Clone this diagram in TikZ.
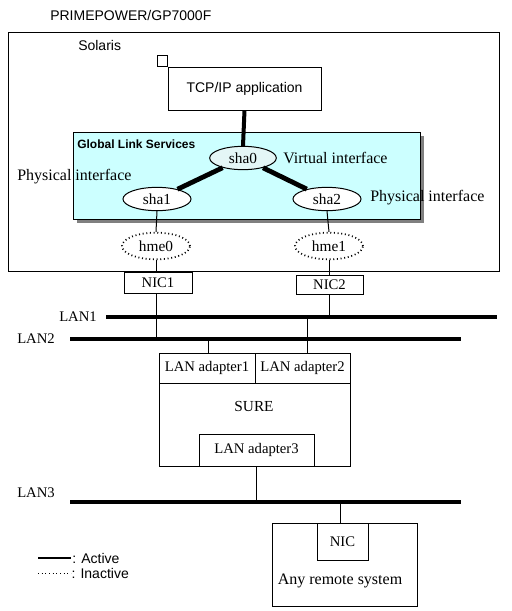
\documentclass[tikz,border=0pt]{standalone}
\usepackage{fontspec}
\setmainfont{Liberation Serif}
\setsansfont{Liberation Sans}
\usetikzlibrary{shapes.geometric,shadows,positioning}
\definecolor{glsfill}{HTML}{CCFFFF}
\definecolor{shafill}{HTML}{E4F6F6}
\tikzset{
  box/.style={draw,line width=0.75pt,inner sep=0pt,font=\fontsize{11}{13}\selectfont},
  ifc/.style={draw,ellipse,line width=0.75pt,fill=white,inner sep=0pt,minimum width=51pt,minimum height=17.5pt,font=\fontsize{11.5}{13}\selectfont},
  inact/.style={ifc,dotted,line width=1.3pt,minimum height=20pt},
  sanslbl/.style={anchor=west,inner sep=0pt,font=\sffamily\fontsize{10.5}{12}\selectfont},
  seriflbl/.style={anchor=west,inner sep=0pt,font=\fontsize{11}{13}\selectfont},
  bigserif/.style={anchor=west,inner sep=0pt,font=\fontsize{12}{14}\selectfont},
  lan/.style={line width=3pt},
  act/.style={line width=3pt},
  link/.style={line width=3.6pt},
  wire/.style={line width=0.75pt}
}
\begin{document}
\begin{tikzpicture}[x=0.75pt,y=-0.75pt]
\useasboundingbox (0,0) rectangle (511,611);
\node[sanslbl] (title) at (50,15) {PRIMEPOWER/GP7000F};
\node[box,minimum width=491*0.75pt,minimum height=239*0.75pt] (host) at (253.5,151.5) {};
\node[sanslbl] (solaris) at (78,45) {Solaris};
\node[box,font=\sffamily\fontsize{10.5}{12}\selectfont,minimum width=153*0.75pt,minimum height=43*0.75pt] (tcp) at (244.5,88.5) {\raisebox{-2pt}{TCP/IP application}};
\draw[wire] (tcp.north west) rectangle ++(-10,-11);
\node[draw,line width=0.75pt,fill=glsfill,minimum width=347*0.75pt,minimum height=87*0.75pt,
  drop shadow={shadow xshift=3pt,shadow yshift=-3pt,fill=gray,opacity=1}] (gls) at (246.5,175.5) {};
\node[anchor=west,inner sep=0pt,font=\sffamily\bfseries\fontsize{9}{11}\selectfont] (glstitle) at (77,144) {Global Link Services};
\node[ifc,fill=shafill,minimum width=50pt] (sha0) at (243,158) {sha0};
\node[ifc] (sha1) at (157,199) {sha1};
\node[ifc] (sha2) at (327,199) {sha2};
\node[bigserif] (virt) at (283,158) {Virtual interface};
\node[bigserif] (phys1) at (17,177) {Physical interface};
\node[bigserif] (phys2) at (370,198) {Physical interface};
\node[inact] (hme0) at (156,246) {};
\node[font=\fontsize{11.5}{13}\selectfont] at (hme0) {hme0};
\node[inact] (hme1) at (329,246) {};
\node[font=\fontsize{11.5}{13}\selectfont] at (hme1) {hme1};
\node[box,minimum width=68*0.75pt,minimum height=21*0.75pt] (nic1) at (158,282.5) {NIC1};
\node[box,minimum width=67*0.75pt,minimum height=19*0.75pt] (nic2) at (329.5,284.5) {NIC2};
\draw[act] (tcp.south) -- (sha0.north);
\draw[link] (sha0) -- (sha1);
\draw[link] (sha0) -- (sha2);
\draw[wire] (sha1.south) -- (hme0.north);
\draw[wire] (sha2.south) -- (hme1.north);
\draw[wire] (hme0.south) -- (hme0.south |- nic1.north);
\draw[wire] (hme1.south) -- (hme1.south |- nic2.north);
\node[seriflbl] (lan1lbl) at (59,317) {LAN1};
\node[seriflbl] (lan2lbl) at (17,339) {LAN2};
\node[seriflbl] (lan3lbl) at (17,493) {LAN3};
\coordinate (lan1w) at (106,317);
\coordinate (lan1e) at (497,317);
\coordinate (lan2w) at (70,339);
\coordinate (lan2e) at (461,339);
\coordinate (lan3w) at (70,502);
\coordinate (lan3e) at (461,502);
\draw[lan] (lan1w) -- (lan1e);
\draw[lan] (lan2w) -- (lan2e);
\draw[lan] (lan3w) -- (lan3e);
\draw[wire] (hme0.south |- nic1.south) -- (hme0.south |- lan2w);
\draw[wire] (hme1.south |- nic2.south) -- (hme1.south |- lan1w);
\node[box,minimum width=191*0.75pt,minimum height=113*0.75pt] (sure) at (254.5,409.5) {};
\node[box,minimum width=96*0.75pt,minimum height=30*0.75pt] (ada1) at (207,368) {LAN adapter1};
\node[box,minimum width=95*0.75pt,minimum height=30*0.75pt] (ada2) at (302.5,368) {LAN adapter2};
\node[font=\fontsize{11.5}{13}\selectfont] (surelbl) at (254,406) {SURE};
\node[box,minimum width=115*0.75pt,minimum height=32*0.75pt] (ada3) at (256.5,450) {LAN adapter3};
\draw[wire] (208,339) coordinate (tap1) -- (tap1 |- ada1.north);
\draw[wire] (307,317) coordinate (tap2) -- (tap2 |- ada2.north);
\draw[wire] (ada3.south) -- (ada3.south |- lan3w);
\node[box,minimum width=145*0.75pt,minimum height=83*0.75pt] (remote) at (344.5,564.5) {};
\node[box,minimum width=51*0.75pt,minimum height=37*0.75pt] (nic) at (342.5,541.5) {NIC};
\node[font=\fontsize{12}{14}\selectfont] (remotelbl) at (340,581) {Any remote system};
\draw[wire] (340,502) coordinate (tap3) -- (tap3 |- nic.north);
\coordinate (legact) at (38,558);
\coordinate (leginact) at (38,573);
\draw[line width=2pt] (legact) -- ++(33,0) node[sanslbl] (actlbl) {: Active};
\draw[wire,dotted] (leginact) -- ++(33,0) node[sanslbl] (inactlbl) {: Inactive};
\end{tikzpicture}
\end{document}
